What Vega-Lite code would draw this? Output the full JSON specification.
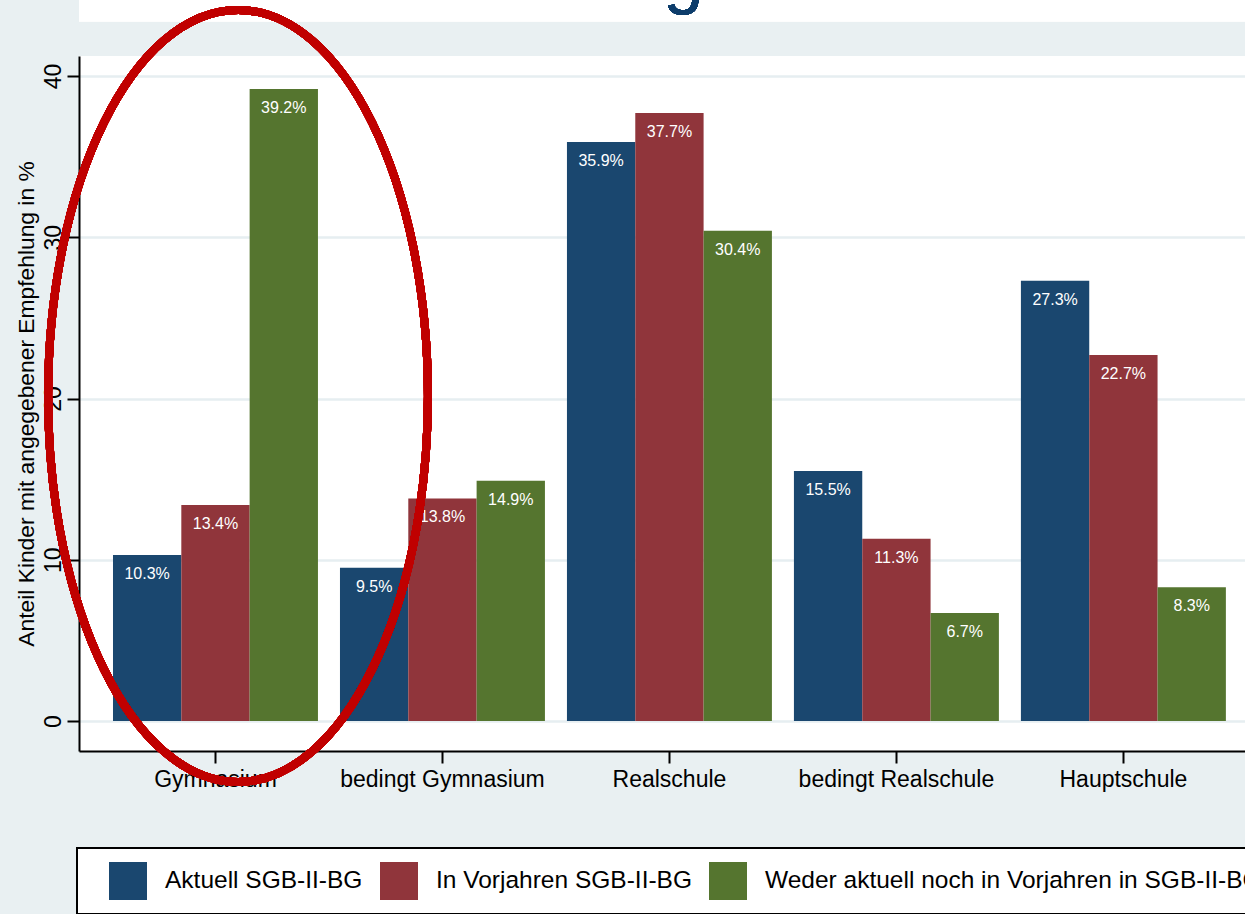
{
  "$schema": "https://vega.github.io/schema/vega-lite/v6.json",
  "width": 1166,
  "height": 695,
  "autosize": {"type": "none"},
  "padding": {"left": 79, "top": 56, "right": 0, "bottom": 163},
  "background": "#E9F0F2",
  "config": {
    "font": "Liberation Sans",
    "view": {"fill": "white", "stroke": null},
    "axis": {
      "domainColor": "black",
      "domainWidth": 2,
      "tickColor": "black",
      "tickWidth": 2,
      "tickSize": 12,
      "labelColor": "black",
      "labelFontSize": 23,
      "labelLimit": 1000,
      "titleColor": "black",
      "titleFontWeight": "normal"
    }
  },
  "datasets": {
    "shares": [
      {"cat": "Gymnasium", "grp": "Aktuell SGB-II-BG", "v": 10.3},
      {"cat": "Gymnasium", "grp": "In Vorjahren SGB-II-BG", "v": 13.4},
      {"cat": "Gymnasium", "grp": "Weder aktuell noch in Vorjahren in SGB-II-BG", "v": 39.2},
      {"cat": "bedingt Gymnasium", "grp": "Aktuell SGB-II-BG", "v": 9.5},
      {"cat": "bedingt Gymnasium", "grp": "In Vorjahren SGB-II-BG", "v": 13.8},
      {"cat": "bedingt Gymnasium", "grp": "Weder aktuell noch in Vorjahren in SGB-II-BG", "v": 14.9},
      {"cat": "Realschule", "grp": "Aktuell SGB-II-BG", "v": 35.9},
      {"cat": "Realschule", "grp": "In Vorjahren SGB-II-BG", "v": 37.7},
      {"cat": "Realschule", "grp": "Weder aktuell noch in Vorjahren in SGB-II-BG", "v": 30.4},
      {"cat": "bedingt Realschule", "grp": "Aktuell SGB-II-BG", "v": 15.5},
      {"cat": "bedingt Realschule", "grp": "In Vorjahren SGB-II-BG", "v": 11.3},
      {"cat": "bedingt Realschule", "grp": "Weder aktuell noch in Vorjahren in SGB-II-BG", "v": 6.7},
      {"cat": "Hauptschule", "grp": "Aktuell SGB-II-BG", "v": 27.3},
      {"cat": "Hauptschule", "grp": "In Vorjahren SGB-II-BG", "v": 22.7},
      {"cat": "Hauptschule", "grp": "Weder aktuell noch in Vorjahren in SGB-II-BG", "v": 8.3}
    ]
  },
  "data": {"name": "shares"},
  "layer": [
    {
      "mark": {"type": "rect", "color": "white"},
      "encoding": {
        "y": {"datum": 43.4, "type": "quantitative"},
        "y2": {"datum": 50}
      }
    },
    {
      "mark": {"type": "bar"},
      "encoding": {
        "x": {
          "field": "cat",
          "type": "nominal",
          "sort": ["Gymnasium", "bedingt Gymnasium", "Realschule", "bedingt Realschule", "Hauptschule"],
          "scale": {"paddingInner": 0.097, "paddingOuter": 0.117, "align": 0.64},
          "axis": {"title": null, "labelAngle": 0, "labelPadding": 5, "grid": false}
        },
        "xOffset": {
          "field": "grp",
          "type": "nominal",
          "sort": ["Aktuell SGB-II-BG", "In Vorjahren SGB-II-BG", "Weder aktuell noch in Vorjahren in SGB-II-BG"],
          "scale": {"paddingInner": 0, "paddingOuter": 0}
        },
        "y": {
          "field": "v",
          "type": "quantitative",
          "scale": {"domain": [-1.86, 41.24], "nice": false, "zero": false},
          "axis": {
            "title": "Anteil Kinder mit angegebener Empfehlung in %",
            "values": [0, 10, 20, 30, 40],
            "grid": true,
            "gridColor": "#E6EEF1",
            "gridWidth": 2.5,
            "labelAngle": -90,
            "labelAlign": "center",
            "labelBaseline": "alphabetic",
            "labelPadding": 7,
            "titleFontSize": 22.8,
            "titleAngle": -90,
            "titleBaseline": "alphabetic",
            "titleX": -46
          }
        },
        "y2": {"datum": 0},
        "color": {
          "field": "grp",
          "type": "nominal",
          "scale": {
            "domain": ["Aktuell SGB-II-BG", "In Vorjahren SGB-II-BG", "Weder aktuell noch in Vorjahren in SGB-II-BG"],
            "range": ["#1A476F", "#90353B", "#55752F"]
          },
          "legend": {
            "orient": "none",
            "legendX": -2,
            "legendY": 792,
            "direction": "horizontal",
            "columns": 3,
            "title": " ",
            "titleOrient": "left",
            "titleFontSize": 11,
            "titlePadding": 18,
            "symbolType": "square",
            "symbolSize": 1444,
            "symbolStrokeWidth": 0,
            "symbolOpacity": 1,
            "labelFontSize": 24.5,
            "labelColor": "black",
            "labelOffset": 18,
            "labelLimit": 1000,
            "columnPadding": 17,
            "padding": 14,
            "fillColor": "white",
            "strokeColor": "black",
            "encode": {"legend": {"update": {"strokeWidth": {"value": 2}}}}
          }
        }
      }
    },
    {
      "transform": [{"calculate": "format(datum.v, '.1f') + '%'", "as": "label"}],
      "mark": {"type": "text", "baseline": "top", "align": "center", "dy": 11, "fontSize": 16, "color": "white"},
      "encoding": {
        "x": {"field": "cat", "type": "nominal", "sort": ["Gymnasium", "bedingt Gymnasium", "Realschule", "bedingt Realschule", "Hauptschule"]},
        "xOffset": {"field": "grp", "type": "nominal", "sort": ["Aktuell SGB-II-BG", "In Vorjahren SGB-II-BG", "Weder aktuell noch in Vorjahren in SGB-II-BG"]},
        "y": {"field": "v", "type": "quantitative"},
        "text": {"field": "label"}
      }
    },
    {
      "mark": {
        "type": "point",
        "shape": "M0,-1A0.492,1,0,1,1,0,1A0.492,1,0,1,1,0,-1Z",
        "filled": false,
        "stroke": "#C00000",
        "strokeWidth": 8,
        "opacity": 1,
        "size": 595984
      },
      "encoding": {
        "x": {"datum": "Gymnasium", "bandPosition": 0.61},
        "y": {"datum": 20.16, "type": "quantitative"}
      }
    },
    {
      "mark": {"type": "text", "align": "center", "baseline": "alphabetic", "fontSize": 72, "color": "#0D3D6B"},
      "encoding": {
        "x": {"datum": "Realschule", "bandPosition": 0.568},
        "y": {"datum": 44.7, "type": "quantitative"},
        "text": {"value": "g"}
      }
    }
  ]
}
